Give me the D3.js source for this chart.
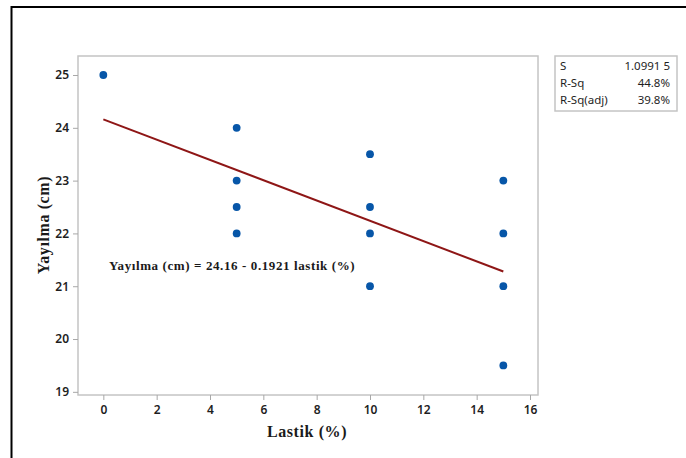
<!DOCTYPE html>
<html>
<head>
<meta charset="utf-8">
<script src="https://cdn.jsdelivr.net/npm/d3@7"></script>
<style>
  html, body { margin: 0; padding: 0; background: #fff; }
  svg { display: block; }
</style>
</head>
<body>
<div id="chart"></div>
<script>
// Lastik (%) vs Yayılma (cm) observations
const lastik  = [0, 5, 5, 5, 5, 10, 10, 10, 10, 15, 15, 15, 15];
const yayilma = [25, 24, 23, 22.5, 22, 23.5, 22.5, 22, 21, 23, 22, 21, 19.5];

// Fitted regression line and summary statistics
const intercept = 24.16;
const slope = -0.1921;
const statNames  = ["S", "R-Sq", "R-Sq(adj)"];
const statValues = ["1.0991 5", "44.8%", "39.8%"];

const xTicks = [0, 2, 4, 6, 8, 10, 12, 14, 16];
const yTicks = [19, 20, 21, 22, 23, 24, 25];

const W = 686, H = 458;
const plot = { left: 78, top: 56, right: 538, bottom: 395 };

const svg = d3.select("#chart").append("svg")
  .attr("width", W).attr("height", H);

// Outer window frame (only its top and left edges fall inside the view)
svg.append("path")
  .attr("d", `M11.5,${H + 5} L11.5,7 L${W + 5},7`)
  .attr("fill", "none")
  .attr("stroke", "#000")
  .attr("stroke-width", 2);

const x = d3.scaleLinear().domain([-0.95, 16.3]).range([plot.left, plot.right]);
const y = d3.scaleLinear().domain([18.94, 25.36]).range([plot.bottom, plot.top]);

// Plot frame
svg.append("rect")
  .attr("x", plot.left).attr("y", plot.top)
  .attr("width", plot.right - plot.left)
  .attr("height", plot.bottom - plot.top)
  .attr("fill", "none")
  .attr("stroke", "#c4c4c4")
  .attr("stroke-width", 1.5);

const tickFont = "'Noto Sans', 'DejaVu Sans', sans-serif";

const xAxis = svg.append("g")
  .attr("transform", `translate(0,${plot.bottom})`)
  .call(d3.axisBottom(x).tickValues(xTicks).tickFormat(d3.format("d")).tickSize(5).tickPadding(5));
const yAxis = svg.append("g")
  .attr("transform", `translate(${plot.left},0)`)
  .call(d3.axisLeft(y).tickValues(yTicks).tickFormat(d3.format("d")).tickSize(5).tickPadding(4));

[xAxis, yAxis].forEach(g => {
  g.select(".domain").remove();
  g.selectAll(".tick line").attr("stroke", "#a8a8a8").attr("stroke-width", 1);
  g.selectAll(".tick text")
    .attr("fill", "#1e1e1e")
    .style("font-family", tickFont)
    .style("font-size", "12px")
    .style("font-weight", "600");
});

// Regression line over the observed range
svg.append("line")
  .attr("x1", x(0)).attr("y1", y(intercept))
  .attr("x2", x(15)).attr("y2", y(intercept + slope * 15))
  .attr("stroke", "#8e1616")
  .attr("stroke-width", 2);

// Data points
svg.append("g").selectAll("circle")
  .data(lastik.map((v, i) => [v, yayilma[i]]))
  .join("circle")
  .attr("cx", d => x(d[0]))
  .attr("cy", d => y(d[1]))
  .attr("r", 3.9)
  .attr("fill", "#0756a8");

const serif = "'Liberation Serif', 'DejaVu Serif', serif";

// Regression equation
svg.append("text")
  .attr("x", 109).attr("y", 270)
  .style("font-family", serif)
  .style("font-weight", "bold")
  .style("font-size", "13px")
  .style("letter-spacing", "0.6px")
  .attr("fill", "#1a1a1a")
  .text(`Yayılma (cm) = ${intercept.toFixed(2)} - ${Math.abs(slope)} lastik (%)`);

// Axis titles
svg.append("text")
  .attr("x", 307).attr("y", 437)
  .attr("text-anchor", "middle")
  .style("font-family", serif)
  .style("font-weight", "bold")
  .style("font-size", "16px")
  .style("letter-spacing", "0.6px")
  .attr("fill", "#1a1a1a")
  .text("Lastik (%)");

svg.append("text")
  .attr("transform", "translate(49,225) rotate(-90)")
  .attr("text-anchor", "middle")
  .style("font-family", serif)
  .style("font-weight", "bold")
  .style("font-size", "16px")
  .style("letter-spacing", "0.6px")
  .attr("fill", "#1a1a1a")
  .text("Yayılma (cm)");

// Summary statistics box
const box = { x: 555, y: 56, w: 122, h: 55 };
svg.append("rect")
  .attr("x", box.x).attr("y", box.y)
  .attr("width", box.w).attr("height", box.h)
  .attr("fill", "#fff")
  .attr("stroke", "#c4c4c4")
  .attr("stroke-width", 1.5);

const rowY = d3.scalePoint().domain(statNames).range([70, 104]);
const stats = svg.append("g")
  .style("font-family", tickFont)
  .style("font-size", "11.5px")
  .attr("fill", "#1e1e1e");
stats.selectAll("text.name")
  .data(statNames)
  .join("text")
  .attr("class", "name")
  .attr("x", box.x + 5)
  .attr("y", d => rowY(d))
  .text(d => d);
stats.selectAll("text.val")
  .data(statValues)
  .join("text")
  .attr("class", "val")
  .attr("x", box.x + box.w - 7)
  .attr("y", (d, i) => rowY(statNames[i]))
  .attr("text-anchor", "end")
  .text(d => d);
</script>
</body>
</html>
